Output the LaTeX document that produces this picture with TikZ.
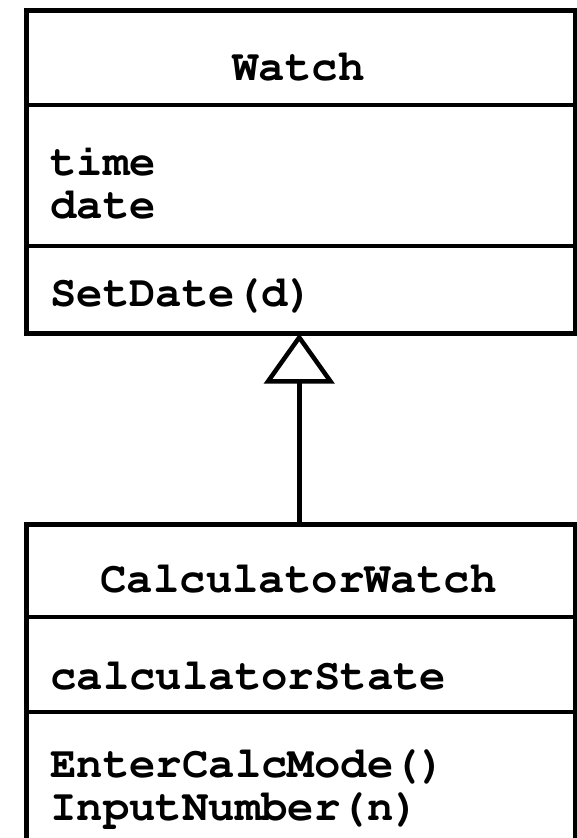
\documentclass[tikz,border=0pt]{standalone}
\usepackage[T1]{fontenc}
\usetikzlibrary{arrows.meta}
\tikzset{
  divider/.style={line width=4.5pt},
  umlbox/.style={draw, line width=4.5pt, anchor=north west, minimum width=549pt, inner sep=0pt},
  umltext/.style={font=\fontfamily{pcr}\bfseries\fontsize{44pt}{43pt}\selectfont, inner sep=0pt, anchor=base west, align=left},
  umltitle/.style={umltext, anchor=base},
  inherits/.style={line width=4.5pt, -{Triangle[open, length=50pt, width=70pt]}, shorten >=-2pt},
}
\begin{document}
\begin{tikzpicture}[x=1pt, y=-1pt]
  \useasboundingbox (0,0) rectangle (577,838);
  % superclass Watch
  \node[umlbox, minimum height=323pt] (watch) at (24,8) {};
  \draw[divider] (watch.west |- 0,105) -- (watch.east |- 0,105);
  \draw[divider] (watch.west |- 0,246) -- (watch.east |- 0,246);
  \node[umltitle] (wname) at (298.5,80) {Watch};
  \node[umltext] (wattr1) at (50,175) {time};
  \node[umltext] (wattr2) at (50,218) {date};
  \node[umltext] (wop) at (50,306) {SetDate(d)};
  % subclass CalculatorWatch, open at the bottom
  \node[umlbox, minimum height=340pt] (calc) at (24,522) {};
  \draw[divider] (calc.west |- 0,617) -- (calc.east |- 0,617);
  \draw[divider] (calc.west |- 0,712) -- (calc.east |- 0,712);
  \node[umltitle] (cname) at (298.5,592) {CalculatorWatch};
  \node[umltext] (cattr) at (50,689) {calculatorState};
  \node[umltext] (cop1) at (50,777) {EnterCalcMode()};
  \node[umltext] (cop2) at (50,820) {InputNumber(n)};
  % generalization, slightly left of the box centre
  \draw[inherits] ([xshift=-1.5pt]calc.north) -- ([xshift=-1.5pt]watch.south);
\end{tikzpicture}
\end{document}
